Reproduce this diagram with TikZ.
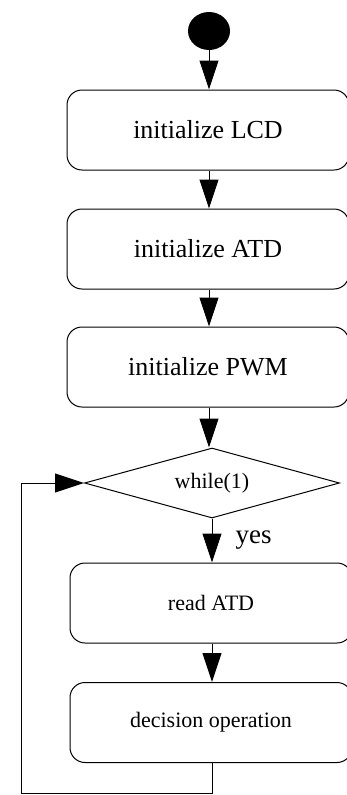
\documentclass[tikz,border=0pt]{standalone}
\usepackage{fontspec}
\setmainfont{Liberation Serif}
\usetikzlibrary{positioning,arrows.meta,shapes.geometric}

\begin{document}
\begin{tikzpicture}[
x=1pt,y=-1pt,
>={Triangle[length=29pt,width=19pt]},
stepbox/.style={
draw,
rounded corners=15pt,
line width=1pt,
minimum width=282pt,
minimum height=80pt,
align=center,
font=\fontsize{26}{30}\selectfont
},
smallstep/.style={
stepbox,
font=\fontsize{22}{26}\selectfont
},
arrow/.style={->,line width=1pt}
]
\useasboundingbox (0,0) rectangle (347,795);

%---------------- Top ----------------%

\node[ellipse,fill=black,minimum width=42pt,minimum height=38pt,inner sep=0pt] (start) at (209,31) {};

\node[stepbox] (lcd) at (208,130) {initialize LCD};

\node[stepbox] (atd) at (208,249) {initialize ATD};

\node[stepbox] (pwm) at (208,367) {initialize PWM};

%---------------- Loop ----------------%

\node[diamond,draw,line width=1pt,aspect=3.64,minimum width=255pt,
minimum height=70pt,inner sep=0pt,font=\fontsize{22}{25}\selectfont]
(loop) at (212,483) {while(1)};

\node[smallstep] (read) at (211,603) {read ATD};

\node[smallstep] (decide) at (211,722.5) {decision operation};

\node[anchor=west,font=\fontsize{27}{30}\selectfont] (yes) at (232,540) {yes};

\coordinate (back) at (21,793);

%---------------- Connections ----------------%

\draw[arrow] (start)--(start|-lcd.north);
\draw[arrow] (lcd.south-|start)--(start|-atd.north);
\draw[arrow] (atd.south-|start)--(start|-pwm.north);
\draw[arrow] (pwm.south-|start)--(start|-loop.north);

\draw[arrow] (loop.south)--(loop.south|-read.north);
\draw[arrow] (read.south-|loop.south)--(loop.south|-decide.north);

\draw[arrow] (decide.south-|loop.south)|-(back)|-(loop.west);

\end{tikzpicture}
\end{document}
